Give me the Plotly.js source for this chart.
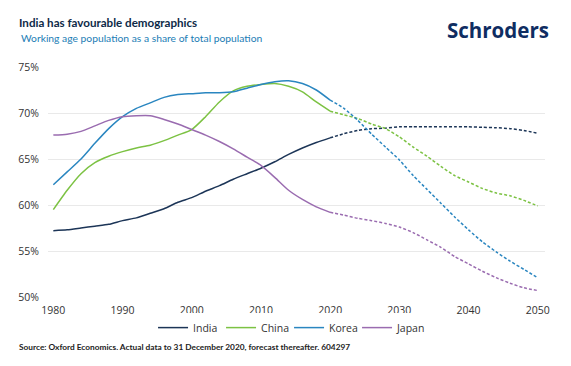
<!DOCTYPE html>
<html>
<head>
<meta charset="utf-8">
<script src="https://cdn.plot.ly/plotly-3.0.1.min.js"></script>
<style>html,body{margin:0;padding:0;background:#fff;}#chart{width:571px;height:366px;}</style>
</head>
<body>
<div id="chart"></div>
<script>
// Years
const yearsActual = [1980,1982,1984,1986,1988,1990,1992,1994,1996,1998,2000,2002,2004,2006,2008,2010,2012,2014,2016,2018,2020];
const yearsForecast = [2020,2022,2024,2026,2028,2030,2032,2034,2036,2038,2040,2042,2044,2046,2048,2050];

// Working age population share (%), actual
const indiaActual = [57.2,57.3,57.5,57.7,57.9,58.3,58.6,59.1,59.6,60.3,60.8,61.5,62.1,62.8,63.4,64.0,64.7,65.5,66.2,66.8,67.3];
const chinaActual = [59.5,61.6,63.4,64.6,65.3,65.8,66.2,66.5,67.0,67.6,68.2,69.6,71.2,72.4,72.9,73.1,73.2,72.9,72.3,71.2,70.2];
const koreaActual = [62.2,63.6,65.0,66.7,68.3,69.6,70.5,71.1,71.7,72.0,72.1,72.2,72.2,72.3,72.7,73.1,73.4,73.5,73.2,72.5,71.4];
const japanActual = [67.6,67.7,68.0,68.6,69.2,69.6,69.7,69.7,69.3,68.8,68.2,67.6,66.9,66.1,65.2,64.3,63.0,61.6,60.6,59.8,59.2];

// Forecast
const indiaForecast = [67.3,67.75,68.1,68.3,68.35,68.5,68.5,68.5,68.5,68.5,68.5,68.45,68.4,68.3,68.1,67.8];
const chinaForecast = [70.2,69.8,69.4,68.8,68.3,67.4,66.3,65.3,64.2,63.2,62.5,61.8,61.3,61.0,60.5,59.9];
const koreaForecast = [71.4,70.5,69.2,67.7,66.3,64.9,63.2,61.7,60.2,58.7,57.3,56.0,54.9,53.9,53.0,52.1];
const japanForecast = [59.2,58.9,58.55,58.3,58.0,57.6,57.0,56.2,55.4,54.4,53.6,52.8,52.1,51.5,51.0,50.7];

const seriesNames = ['India','China','Korea','Japan'];
const tickYears = [1980,1990,2000,2010,2020,2030,2040,2050];
const tickPct = [50,55,60,65,70,75];
const tickPctLabels = ['50%','55%','60%','65%','70%','75%'];

const colors = {India:'#1c3557', China:'#7cc243', Korea:'#2a86c0', Japan:'#9a6cb0'};
const actual = {India:indiaActual, China:chinaActual, Korea:koreaActual, Japan:japanActual};
const forecast = {India:indiaForecast, China:chinaForecast, Korea:koreaForecast, Japan:japanForecast};

const traces = [];
seriesNames.forEach(n => {
  traces.push({x:yearsActual, y:actual[n], name:n, legendgroup:n, type:'scatter', mode:'lines',
    line:{color:colors[n], width:1.5, shape:'spline', smoothing:0.6}, hoverinfo:'skip'});
});
seriesNames.forEach(n => {
  traces.push({x:yearsForecast, y:forecast[n], name:n, legendgroup:n, showlegend:false, type:'scatter', mode:'lines',
    line:{color:colors[n], width:1.5, dash:'3px,2px', shape:'spline', smoothing:0.6}, hoverinfo:'skip'});
});

const txtFont = 'Lato, Open Sans, sans-serif';
const layout = {
  width:571, height:366,
  margin:{l:48, r:26, t:67, b:69},
  paper_bgcolor:'#fff', plot_bgcolor:'#fff',
  font:{family:'Open Sans, sans-serif', size:10.5, color:'#333'},
  showlegend:true,
  legend:{orientation:'h', x:0.485, xanchor:'center', y:-0.07, yanchor:'top',
    font:{size:10.5, color:'#333'}, itemwidth:30, entrywidth:23, tracegroupgap:0},
  xaxis:{range:[1979.23,2051.05], tickvals:tickYears, ticktext:tickYears.map(String),
    showgrid:false, zeroline:false, showline:false, ticks:'', ticklabelstandoff:5,
    tickfont:{size:10.5, color:'#333'}},
  yaxis:{range:[50,75], tickvals:tickPct, ticktext:tickPctLabels, showgrid:true,
    gridcolor:'#e9e9e9', gridwidth:1, zeroline:false, showline:false, ticks:'',
    ticklabelstandoff:8, tickfont:{size:10.5, color:'#333'}},
  title:{text:'<b>India has favourable demographics</b>', xref:'container', yref:'container',
    x:19/571, xanchor:'left', y:1-23/366, yanchor:'middle',
    font:{family:txtFont, size:11.6, color:'#0e2a47'}},
  annotations:[
    {text:'Working age population as a share of total population', xref:'paper', yref:'paper',
      x:-29/497, xanchor:'left', y:1+(67-38)/230, yanchor:'middle', showarrow:false,
      font:{family:txtFont, size:10.3, color:'#1b7db5'}},
    {text:'<b>Schroders</b>', xref:'paper', yref:'paper', x:1+(551-545)/497, xanchor:'right',
      y:1+(67-30)/230, yanchor:'middle', showarrow:false,
      font:{family:'Open Sans, sans-serif', size:20.5, color:'#0f2d62'}},
    {text:'<b>Source: Oxford Economics. Actual data to 31 December 2020, forecast thereafter. 604297</b>',
      xref:'paper', yref:'paper', x:-31/497, xanchor:'left', y:-(347-297)/230, yanchor:'middle',
      showarrow:false, font:{family:txtFont, size:8.3, color:'#222'}}
  ]
};

Plotly.newPlot('chart', traces, layout, {displayModeBar:false, staticPlot:true});
</script>
</body>
</html>
